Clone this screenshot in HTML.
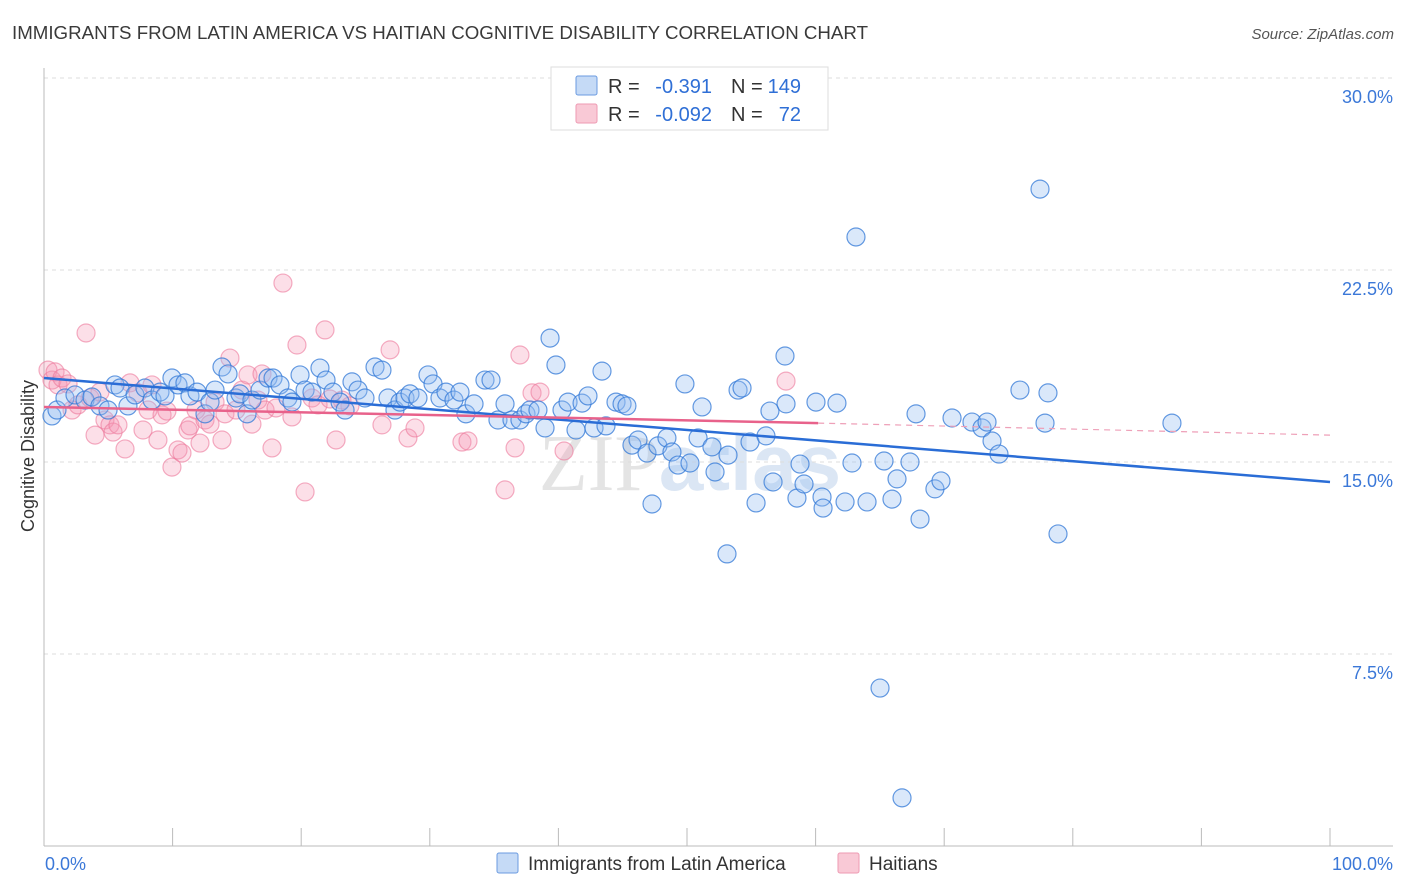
<!DOCTYPE html>
<html><head><meta charset="utf-8"><style>
body{margin:0;background:#fff;font-family:"Liberation Sans",sans-serif;}
svg{display:block}
</style></head><body>
<svg id="chart" width="1406" height="892">
<text x="12" y="39" font-size="18" fill="#3a3a3a" textLength="856" lengthAdjust="spacingAndGlyphs">IMMIGRANTS FROM LATIN AMERICA VS HAITIAN COGNITIVE DISABILITY CORRELATION CHART</text>
<text x="1394" y="39" font-size="15" fill="#555" font-style="italic" text-anchor="end">Source: ZipAtlas.com</text>
<text x="690" y="490" font-size="80" fill="#e4e4e4" text-anchor="middle" font-family="Liberation Serif,serif">ZIP<tspan fill="#dbe6f4" font-family="Liberation Sans,sans-serif" font-weight="bold">atlas</tspan></text>
<g id="grid"></g>
<g id="axes"></g>
<g id="pts"></g>
<g id="lines"></g>
<text transform="translate(34,456) rotate(-90)" font-size="18" fill="#333" text-anchor="middle">Cognitive Disability</text>
<g>
<rect x="551" y="67" width="277" height="63" fill="#fff" stroke="#ddd"/>
<rect x="576" y="76" width="21" height="19" fill="#c5daf6" stroke="#6b9be0" rx="2"/>
<rect x="576" y="104" width="21" height="19" fill="#f9c9d6" stroke="#ee9ab3" rx="2"/>
<text y="93" font-size="20" fill="#333"><tspan x="608">R =</tspan><tspan x="712" text-anchor="end" fill="#2f6fd6">-0.391</tspan><tspan x="731">N =</tspan><tspan x="801" text-anchor="end" fill="#2f6fd6">149</tspan></text>
<text y="121" font-size="20" fill="#333"><tspan x="608">R =</tspan><tspan x="712" text-anchor="end" fill="#2f6fd6">-0.092</tspan><tspan x="731">N =</tspan><tspan x="801" text-anchor="end" fill="#2f6fd6">72</tspan></text>
</g>
<g>
<rect x="497" y="853" width="21" height="20" fill="#c5daf6" stroke="#6b9be0" rx="2"/>
<text x="528" y="870" font-size="19" fill="#333">Immigrants from Latin America</text>
<rect x="838" y="853" width="21" height="20" fill="#f9c9d6" stroke="#ee9ab3" rx="2"/>
<text x="869" y="870" font-size="19" fill="#333">Haitians</text>
</g>
</svg>
<script>
const yTicks=[7.5,15,22.5,30];
const xTickLabels=["0.0%","100.0%"];
const blueX=[0.62,1.01,1.63,2.41,3.19,3.73,4.35,4.98,5.52,5.91,6.53,7.08,7.85,8.40,9.02,9.41,9.95,10.42,10.96,11.35,11.90,12.52,12.91,13.30,13.84,14.31,14.93,15.24,15.79,16.17,16.80,17.42,17.81,18.35,18.97,19.28,19.91,20.30,20.84,21.46,21.93,22.47,23.02,23.41,23.95,24.42,24.96,25.74,26.28,26.75,27.29,27.68,28.07,28.46,29.08,29.86,30.25,30.79,31.26,31.88,32.35,32.81,33.44,34.29,34.76,35.30,35.85,36.39,37.01,37.48,37.79,38.41,38.96,39.35,39.81,40.28,40.75,41.37,41.84,42.30,42.77,43.39,43.70,44.48,44.95,45.33,45.72,46.19,46.89,47.28,47.74,48.44,48.83,49.30,49.84,50.23,50.86,51.17,51.94,52.18,53.19,53.11,53.97,54.28,54.90,55.37,56.14,56.45,56.69,57.62,57.70,58.55,58.79,59.10,60.03,60.50,60.58,61.66,62.29,62.83,63.14,64.00,65.01,65.32,65.94,66.33,66.72,67.34,67.81,68.12,69.28,69.75,70.61,72.16,72.94,73.33,73.72,74.26,75.89,77.45,77.84,78.07,78.85,87.71];
const blueY=[16.80,17.03,17.50,17.62,17.42,17.54,17.19,17.03,18.01,17.89,17.19,17.62,17.89,17.42,17.73,17.58,18.28,18.01,18.09,17.58,17.73,16.88,17.34,17.81,18.71,18.44,17.50,17.66,16.88,17.42,17.81,18.28,18.28,18.01,17.50,17.34,18.40,17.81,17.73,18.67,18.20,17.73,17.34,17.03,18.13,17.81,17.50,18.71,18.59,17.50,17.03,17.34,17.50,17.66,17.50,18.40,18.05,17.50,17.73,17.42,17.73,16.88,17.27,18.20,18.20,16.64,17.27,16.64,16.64,16.88,17.03,17.03,16.33,19.84,18.79,17.03,17.34,16.25,17.30,17.58,16.33,18.55,16.41,17.34,17.27,17.19,15.66,15.86,15.35,13.36,15.63,15.94,15.39,14.88,18.05,14.96,15.94,17.15,15.59,14.61,15.27,11.41,17.81,17.89,15.78,13.40,16.02,16.99,14.22,19.14,17.27,13.59,14.92,14.14,17.34,13.63,13.20,17.30,13.44,14.96,23.79,13.44,6.17,15.04,13.55,14.34,1.88,15.00,16.88,12.77,13.95,14.26,16.72,16.56,16.33,16.56,15.82,15.31,17.81,25.66,16.52,17.70,12.19,16.52];
const pinkX=[0.31,0.62,0.86,1.09,1.40,1.87,2.18,2.64,3.27,3.58,3.97,4.35,4.74,5.13,5.37,5.75,6.30,6.69,7.31,7.70,8.09,8.40,8.86,9.18,9.56,9.95,10.42,10.73,11.20,11.35,11.82,12.13,12.52,12.91,13.30,13.84,14.07,14.46,14.93,15.40,15.86,16.17,16.64,16.95,17.19,17.73,18.04,18.58,19.28,19.67,20.30,20.84,21.31,21.85,22.24,22.71,23.17,23.79,26.28,26.91,28.30,28.85,32.50,32.97,35.85,36.63,37.01,37.95,38.57,40.44,57.70];
const pinkY=[18.59,18.20,18.52,18.01,18.28,18.05,17.03,17.23,20.04,17.50,16.05,17.73,16.64,16.45,16.17,16.45,15.51,18.09,17.70,16.25,17.03,18.01,15.86,16.84,16.99,14.80,15.47,15.35,16.25,16.41,17.03,15.74,16.64,16.48,17.34,15.86,16.88,19.06,17.03,17.81,18.40,16.48,17.42,18.44,17.03,15.55,17.11,21.99,16.76,19.57,13.83,17.50,17.23,20.16,17.46,15.86,17.42,17.19,16.45,19.38,15.94,16.33,15.78,15.82,13.91,15.55,19.18,17.70,17.73,15.43,18.16];
const blueTrendX=[0,100];
const blueTrendY=[18.28,14.22];
const pinkTrendX=[0,60.2,100];
const pinkTrendY=[17.15,16.52,16.05];
const NS="http://www.w3.org/2000/svg";
const sx=v=>44+v*12.86;
const sy=v=>846-v*25.6;
function mk(tag,attrs,parent){const e=document.createElementNS(NS,tag);for(const k in attrs)e.setAttribute(k,attrs[k]);parent.appendChild(e);return e;}
const grid=document.getElementById('grid'),axes=document.getElementById('axes'),pts=document.getElementById('pts'),lines=document.getElementById('lines');
yTicks.forEach(t=>{
  const l=mk('line',{x1:44,x2:1393,y1:sy(t),y2:sy(t),stroke:'#ddd','stroke-dasharray':'4,4'},grid);
  
  
  const tx=mk('text',{x:1393,y:sy(t)+25,'font-size':18,fill:'#3b78d8','text-anchor':'end'},axes);
  tx.textContent=t.toFixed(1)+'%';
  
  
});
let ax=mk('line',{x1:44,x2:1393,y1:846,y2:846,stroke:'#bbb'},axes);


let ay=mk('line',{x1:44,x2:44,y1:68,y2:846,stroke:'#bbb'},axes);


for(let i=0;i<=10;i++){
  const t=mk('line',{x1:sx(i*10),x2:sx(i*10),y1:828,y2:846,stroke:'#bbb'},axes);
  
  
}
[[0,'start',45],[100,'end',1393]].forEach((d,i)=>{
  const t=mk('text',{x:d[2],y:870,'font-size':18,fill:'#3b78d8','text-anchor':d[1]},axes);
  t.textContent=xTickLabels[i];
  
  
});
pinkX.forEach((x,i)=>{
  const c=mk('circle',{cx:sx(x),cy:sy(pinkY[i]),r:9,fill:'rgba(244,150,180,0.3)',stroke:'rgba(236,120,155,0.6)','stroke-width':1.2},pts);
  
  
});
blueX.forEach((x,i)=>{
  const c=mk('circle',{cx:sx(x),cy:sy(blueY[i]),r:9,fill:'rgba(150,190,240,0.35)',stroke:'rgba(50,120,215,0.75)','stroke-width':1.2},pts);
  
  
});
let bl=mk('line',{x1:sx(blueTrendX[0]),y1:sy(blueTrendY[0]),x2:sx(blueTrendX[1]),y2:sy(blueTrendY[1]),stroke:'#2a6dd6','stroke-width':2.5},lines);


let pl=mk('line',{x1:sx(pinkTrendX[0]),y1:sy(pinkTrendY[0]),x2:sx(pinkTrendX[1]),y2:sy(pinkTrendY[1]),stroke:'#e8628b','stroke-width':2.5},lines);


let pd=mk('line',{x1:sx(pinkTrendX[1]),y1:sy(pinkTrendY[1]),x2:sx(pinkTrendX[2]),y2:sy(pinkTrendY[2]),stroke:'#eea0b8','stroke-width':1.2,'stroke-dasharray':'6,5'},lines);


</script>
</body></html>
